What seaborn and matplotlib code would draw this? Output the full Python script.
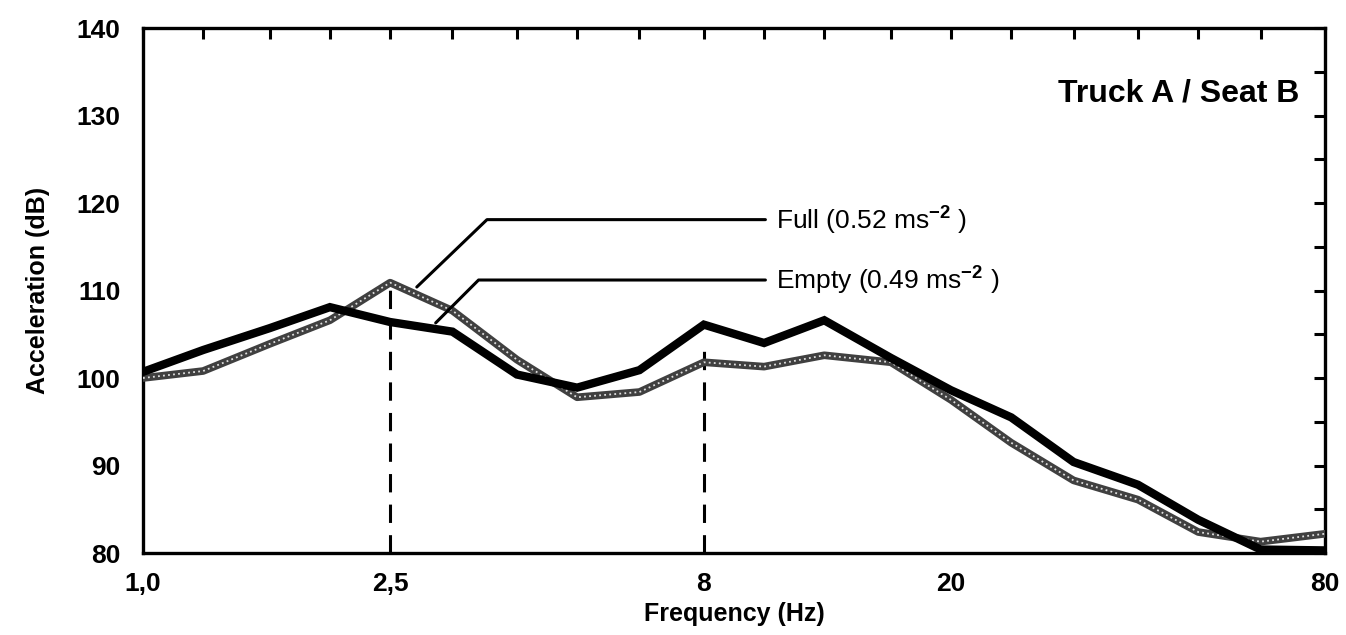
import matplotlib
matplotlib.use("Agg")
import matplotlib.pyplot as plt
from matplotlib.ticker import NullLocator, FixedLocator
import seaborn as sns
import pandas as pd

# 1/3-octave band centre frequencies (Hz)
freqs = [1.0, 1.25, 1.6, 2.0, 2.5, 3.15, 4.0, 5.0, 6.3, 8.0,
         10.0, 12.5, 16.0, 20.0, 25.0, 31.5, 40.0, 50.0, 63.0, 80.0]
# Empty (black thick line) acceleration levels, dB
empty_db = [100.7, 103.2, 105.7, 108.1, 106.4, 105.3, 100.4, 98.9, 100.9, 106.1,
            104.0, 106.6, 102.3, 98.6, 95.5, 90.4, 87.8, 83.8, 80.4, 80.3]
# Full (grey textured line) acceleration levels, dB
full_db = [100.0, 100.8, 103.9, 106.6, 110.9, 107.7, 102.1, 97.8, 98.4, 101.8,
           101.3, 102.6, 101.8, 97.5, 92.6, 88.3, 86.1, 82.4, 81.3, 82.2]

xtick_labels = {1.0: "1,0", 2.5: "2,5", 8.0: "8", 20.0: "20", 80.0: "80"}
yticks_major = [80, 90, 100, 110, 120, 130, 140]
yticks_all = [80, 85, 90, 95, 100, 105, 110, 115, 120, 125, 130, 135, 140]

# dashed reference lines (frequency, top level)
ref_freqs = [2.5, 8.0]
ref_tops = [111.0, 104.0]

label_full = "Full (0.52 ms$^{\\mathbf{-2}}$ )"
label_empty = "Empty (0.49 ms$^{\\mathbf{-2}}$ )"

df = pd.DataFrame({"freq": freqs * 2,
                   "level": empty_db + full_db,
                   "load": ["Empty"] * len(freqs) + ["Full"] * len(freqs)})

sns.set_theme(style="white")
plt.rcParams["font.family"] = ["Liberation Sans", "DejaVu Sans"]
plt.rcParams["mathtext.fontset"] = "custom"
plt.rcParams["mathtext.rm"] = "Liberation Sans"
plt.rcParams["mathtext.bf"] = "Liberation Sans:bold"
for k in ["text.color", "axes.labelcolor", "xtick.color", "ytick.color"]:
    plt.rcParams[k] = "black"

fig = plt.figure(figsize=(13.46, 6.35), dpi=100)
ax = fig.add_axes([0.1062, 0.1291, 0.8782, 0.8268])

# dashed verticals
for f, top in zip(ref_freqs, ref_tops):
    ax.plot([f, f], [80, top], color="black", lw=2.2, ls=(0, (6, 4)), zorder=2)

# Full: grey textured line
sub_full = df[df["load"] == "Full"]
sns.lineplot(data=sub_full, x="freq", y="level", ax=ax, color="#404040",
             lw=5.5, estimator=None, sort=False, zorder=3, solid_joinstyle="round")
sns.lineplot(data=sub_full, x="freq", y="level", ax=ax, color="#e0e0e0",
             lw=1.3, ls=(0, (1, 1.8)), estimator=None, sort=False, zorder=3.1)
# Empty: black thick line
sub_empty = df[df["load"] == "Empty"]
sns.lineplot(data=sub_empty, x="freq", y="level", ax=ax, color="black",
             lw=6, estimator=None, sort=False, zorder=4, solid_joinstyle="miter")

ax.set_xscale("log")
ax.set_xlim(1.0, 80.0)
ax.set_ylim(80, 140)
ax.xaxis.set_major_locator(FixedLocator(freqs))
ax.xaxis.set_minor_locator(NullLocator())
ax.set_xticklabels([xtick_labels.get(f, "") for f in freqs])
ax.set_yticks(yticks_all)
ax.set_yticklabels([str(v) if v in yticks_major else "" for v in yticks_all])

ax.tick_params(axis="both", direction="in", top=True, right=True,
               length=8, width=2.2, color="black", labelsize=19)
for lab in ax.get_xticklabels() + ax.get_yticklabels():
    lab.set_fontweight("bold")
ax.tick_params(axis="x", pad=14)
ax.tick_params(axis="y", pad=16)

for sp in ax.spines.values():
    sp.set_color("black")
    sp.set_linewidth(2.4)

ax.set_xlabel("Frequency (Hz)", fontsize=18, fontweight="bold", labelpad=4)
ax.set_ylabel("Acceleration (dB)", fontsize=18, fontweight="bold", labelpad=19)

# leader lines and labels
ax.plot([2.76, 3.58, 10.05], [110.4, 118.1, 118.1], color="black", lw=2.2, zorder=5)
ax.plot([2.96, 3.47, 10.05], [106.3, 111.2, 111.2], color="black", lw=2.2, zorder=5)
ax.text(10.45, 118.1, label_full, fontsize=19, va="center", ha="left")
ax.text(10.45, 111.2, label_empty, fontsize=19, va="center", ha="left")

ax.text(0.978, 0.876, "Truck A / Seat B", transform=ax.transAxes,
        fontsize=23, fontweight="bold", ha="right", va="center")

fig.savefig("out.png", dpi=100)
